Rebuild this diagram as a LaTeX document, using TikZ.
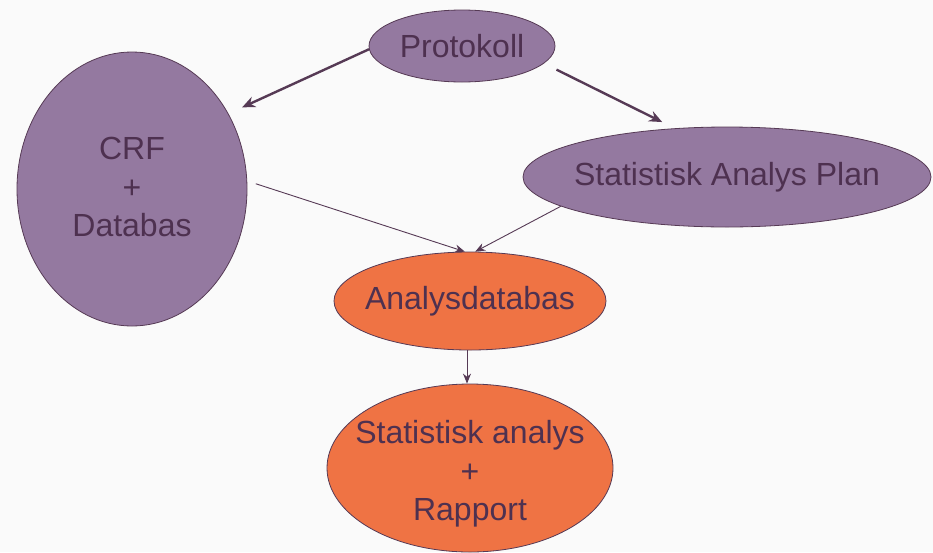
\documentclass[tikz,border=0pt]{standalone}
\usepackage{fontspec}
\setmainfont{Liberation Sans}
\usetikzlibrary{shapes.geometric,arrows.meta}
\definecolor{lila}{HTML}{9479A0}
\definecolor{mork}{HTML}{563A55}
\definecolor{txt}{HTML}{4E3150}
\definecolor{oran}{HTML}{EF7344}
\begin{document}
\begin{tikzpicture}[x=1pt,y=-1pt,
  bub/.style={ellipse, draw=mork, line width=0.8pt, inner sep=0pt},
  purp/.style={bub, fill=lila},
  ora/.style={bub, fill=oran},
  lab/.style={inner sep=0pt, text=txt, align=center, font=\fontsize{32}{38.5}\selectfont},
  thick arrow/.style={draw=mork, line width=2.4pt, -{Stealth[length=13pt,width=11pt]}},
  thin arrow/.style={draw=mork, line width=0.9pt, -{Stealth[length=10pt,width=8pt]}}]
\useasboundingbox (0,0) rectangle (933,552);
\fill[white!98!black] (0,0) rectangle (933,552);
\node[purp, minimum width=186pt, minimum height=72pt] (P) at (462,46) {};
\node[lab] (Pt) at (P.center) {Protokoll};
\node[purp, minimum width=230pt, minimum height=274pt] (C) at (132,189) {};
\node[lab] (Ct) at (132,187) {CRF\\+\\Databas};
\node[purp, minimum width=408pt, minimum height=100pt] (S) at (727,177) {};
\node[lab] (St) at (S.center) {Statistisk Analys Plan};
\node[ora, minimum width=272pt, minimum height=98pt] (A) at (470,301) {};
\node[lab] (At) at (A.center) {Analysdatabas};
\node[ora, minimum width=286pt, minimum height=168pt] (R) at (470,468) {};
\node[lab] (Rt) at (470,474) {Statistisk analys\\+\\Rapport};
\draw[thick arrow, shorten >=15pt] (P.182) -- (C.38);
\draw[thick arrow, shorten <=14pt, shorten >=14pt] (P.-12.6) -- (S.137);
\draw[thin arrow, shorten <=9pt] (C.4) -- (A.96);
\draw[thin arrow] (S.190) -- (A.84);
\draw[thin arrow] (A.south -| 467,0) -- (R.north -| 467,0);
\end{tikzpicture}
\end{document}
